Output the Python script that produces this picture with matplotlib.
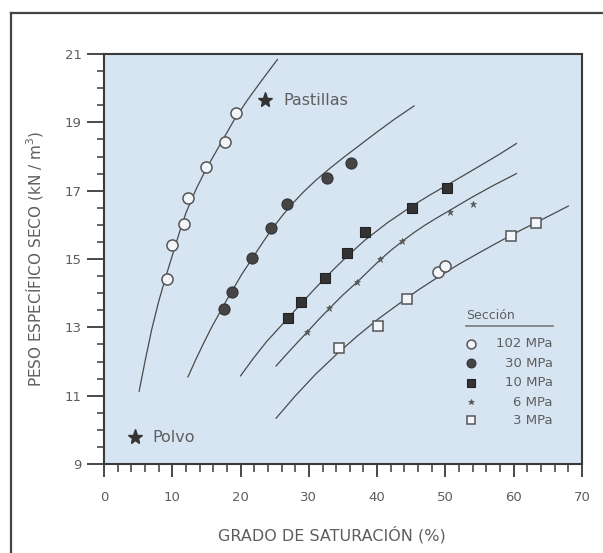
import numpy as np
import matplotlib
matplotlib.use('Agg')
import matplotlib.pyplot as plt
from matplotlib.lines import Line2D

plt.rcParams['font.family'] = ['DejaVu Sans']

TXT = '#5e5e5e'
INK = '#3a3a3a'
BG = '#d7e5f3'

# ensayos (grado de saturacion %, peso especifico seco kN/m3)
s102_x = [9.2, 9.9, 11.7, 12.3, 14.9, 17.7, 19.3]
s102_y = [14.41, 15.41, 16.02, 16.80, 17.70, 18.43, 19.26]

s30_x = [17.6, 18.8, 21.7, 24.5, 26.8, 32.6, 36.1]
s30_y = [13.53, 14.04, 15.02, 15.92, 16.60, 17.38, 17.80]

s10_x = [26.9, 28.9, 32.3, 35.6, 38.2, 45.1, 50.3]
s10_y = [13.26, 13.73, 14.43, 15.18, 15.80, 16.48, 17.07]

s6_x = [29.8, 33.0, 37.1, 40.4, 43.7, 50.6, 54.0]
s6_y = [12.87, 13.56, 14.32, 14.99, 15.53, 16.38, 16.60]

s3_x = [34.4, 40.1, 44.4, 59.6, 63.2]
s3_y = [12.39, 13.05, 13.82, 15.67, 16.06]
s3_circ_x = [48.9, 49.9]
s3_circ_y = [14.63, 14.79]

# curvas de ajuste
c102_x = [5.15, 6.0, 7.0, 8.0, 9.0, 10.0, 11.0, 12.0, 13.5, 15.0, 17.0, 19.0, 21.0, 23.0, 25.4]
c102_y = [11.13, 12.00, 12.95, 13.75, 14.45, 15.10, 15.75, 16.35, 17.05, 17.65, 18.35,
          19.05, 19.65, 20.20, 20.84]

c30_x = [12.3, 13.4, 14.5, 15.7, 17.0, 18.0, 19.0, 20.2, 21.5, 23.0, 24.5, 26.0, 27.5,
         29.2, 31.0, 33.0, 35.0, 37.5, 40.0, 42.6, 45.4]
c30_y = [11.55, 12.04, 12.50, 12.98, 13.45, 13.81, 14.15, 14.56, 14.95, 15.41, 15.85,
         16.24, 16.60, 16.96, 17.30, 17.64, 17.96, 18.34, 18.72, 19.10, 19.48]

c10_x = [20.0, 21.9, 23.8, 25.4, 26.9, 28.9, 30.6, 32.3, 34.0, 35.6, 38.2, 41.5, 45.1,
         47.7, 50.3, 52.7, 55.0, 57.7, 60.4]
c10_y = [11.58, 12.10, 12.58, 12.93, 13.26, 13.70, 14.07, 14.43, 14.77, 15.08, 15.55,
         16.06, 16.55, 16.87, 17.17, 17.45, 17.72, 18.04, 18.38]

c6_x = [25.2, 27.5, 29.8, 31.4, 33.0, 35.0, 37.1, 38.8, 40.4, 42.0, 43.7, 45.3, 47.0,
        48.8, 50.6, 52.3, 54.0, 57.0, 60.4]
c6_y = [11.87, 12.38, 12.87, 13.22, 13.55, 13.95, 14.33, 14.66, 14.97, 15.25, 15.52,
        15.76, 15.99, 16.21, 16.42, 16.62, 16.82, 17.15, 17.50]

c3_x = [25.2, 28.0, 31.0, 34.0, 37.0, 40.0, 43.0, 46.0, 49.0, 52.0, 55.0, 58.0, 61.0, 64.0, 68.0]
c3_y = [10.34, 10.99, 11.63, 12.20, 12.73, 13.22, 13.66, 14.09, 14.48, 14.85, 15.19,
        15.52, 15.84, 16.14, 16.55]

estrella_x = [23.6, 4.5]
estrella_y = [19.64, 9.78]
estrella_txt = ['Pastillas', 'Polvo']

leyenda = ['102 MPa', '30 MPa', '10 MPa', '6 MPa', '3 MPa']

fig = plt.figure(figsize=(6.03, 5.53), dpi=100)
ax = fig.add_axes([104 / 603, 1 - 464 / 553, 478 / 603, 410 / 553])
ax.set_facecolor(BG)

# marco exterior (solo izquierda y arriba visibles)
fig.add_artist(Line2D([11 / 603, 11 / 603], [0, 1 - 13 / 553], color='#444444', lw=1.6))
fig.add_artist(Line2D([11 / 603, 1], [1 - 13 / 553, 1 - 13 / 553], color='#444444', lw=1.6))

lw = 0.9
for cx, cy in [(c102_x, c102_y), (c30_x, c30_y), (c10_x, c10_y), (c6_x, c6_y), (c3_x, c3_y)]:
    ax.plot(cx, cy, color='#4a4a4a', lw=lw, zorder=2)

estilos = [
    dict(marker='o', ms=8, mfc='#f2f6fa', mec='#555555', mew=1.1),
    dict(marker='o', ms=8, mfc='#454545', mec='#333333', mew=0.8),
    dict(marker='s', ms=7.5, mfc='#333333', mec='#222222', mew=0.8),
    dict(marker='*', ms=5, mfc='#555555', mec='#555555', mew=0.5),
    dict(marker='s', ms=7.5, mfc='#f2f6fa', mec='#555555', mew=1.1),
]
series = [(s102_x, s102_y), (s30_x, s30_y), (s10_x, s10_y), (s6_x, s6_y), (s3_x, s3_y)]
for (sx, sy), st in zip(series, estilos):
    ax.plot(sx, sy, ls='none', zorder=3, **st)
ax.plot(s3_circ_x, s3_circ_y, ls='none', zorder=3, **estilos[0])

for x, y, t in zip(estrella_x, estrella_y, estrella_txt):
    ax.plot(x, y, marker='*', ms=11, color='#333333', ls='none', zorder=3)
    ax.text(x + 2.6, y, t, color=TXT, fontsize=11.5, va='center', ha='left')

# leyenda manual
ax.text(0.757, 0.362, 'Sección', transform=ax.transAxes, color=TXT, fontsize=9,
        ha='left', va='center')
ax.plot([0.757, 0.94], [0.337, 0.337], transform=ax.transAxes, color='#777777', lw=1.2)
filas = [0.293, 0.246, 0.198, 0.151, 0.107]
for st, lab, fy in zip(estilos, leyenda, filas):
    k = dict(st)
    k['ms'] = k['ms'] * 0.8
    ax.plot([0.768], [fy], transform=ax.transAxes, ls='none', **k)
    ax.text(0.939, fy, lab, transform=ax.transAxes, color=TXT, fontsize=9.5,
            ha='right', va='center')

ax.set_xlim(0, 70)
ax.set_ylim(9, 21)
ax.set_xticks(np.arange(0, 71, 10))
ax.set_yticks(np.arange(9, 22, 2))
ax.set_xticks(np.arange(0, 71, 2), minor=True)
ax.set_yticks(np.arange(9, 21.1, 0.5), minor=True)

ax.tick_params(axis='x', which='major', direction='out', length=9.5, width=1.3,
               color=INK, labelcolor=TXT, labelsize=9.5, pad=10)
ax.tick_params(axis='x', which='minor', direction='out', length=6, width=1.1, color=INK)
ax.tick_params(axis='y', which='major', direction='out', length=12, width=1.3,
               color=INK, labelcolor=TXT, labelsize=9.5, pad=4)
ax.tick_params(axis='y', which='minor', direction='out', length=5, width=1.1, color=INK)

for s in ax.spines.values():
    s.set_color(INK)
    s.set_linewidth(1.5)

ax.set_xlabel('GRADO DE SATURACIÓN (%)', color=TXT, fontsize=11.5)
ax.xaxis.set_label_coords(0.477, -0.152)
ax.set_ylabel('PESO ESPECÍFICO SECO (kN / m$^3$)', color=TXT, fontsize=11, labelpad=14)

fig.savefig('out.png', dpi=100)
